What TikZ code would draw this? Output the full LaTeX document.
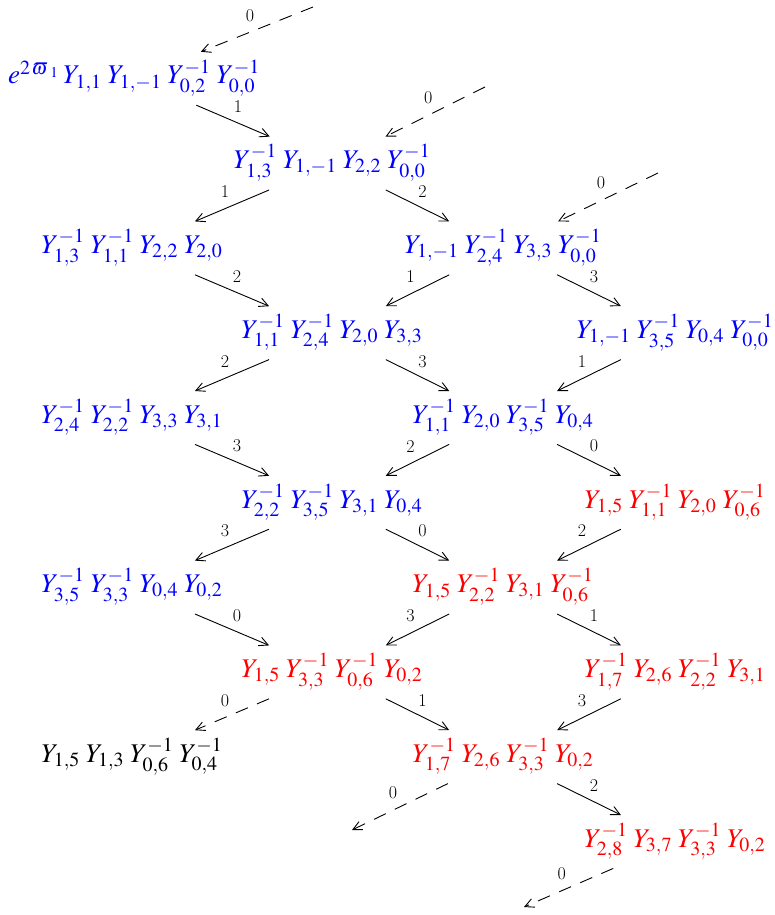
\documentclass[tikz,border=0pt]{standalone}
\usepackage{mathptmx}
\DeclareMathSizes{27}{27}{20}{15}
\usetikzlibrary{arrows.meta}
\newcommand{\gp}{\mskip4mu}
\begin{document}
\begin{tikzpicture}[x=1pt,y=-1pt,
  term/.style={inner xsep=0pt, inner ysep=12pt, text height=20pt, text depth=9pt,
    font=\fontsize{27}{32}\selectfont},
  bl/.style={term, text=blue},
  rd/.style={term, text=red},
  bk/.style={term, text=black},
  conn/.style={line width=0.9pt, -{Straight Barb[length=9pt,width=9pt,line width=0.9pt]}},
  dconn/.style={conn, dash pattern=on 13pt off 10pt},
  lbl/.style={inner sep=0pt, font=\fontsize{18}{20}\selectfont},
  lr/.style={lbl, midway, above=7.5pt, xshift=5pt},
  ll/.style={lbl, midway, above=7.5pt, xshift=-7pt}]
\useasboundingbox (0,0) rectangle (775,915);
% nodes
\node[bl] (A0) at (134,78.5) {$e^{2\mskip1.5mu{\varpi\mskip2mu}_1}\mskip3mu Y_{1,1}\gp Y_{1,-1}\gp Y^{-1}_{0,2}\gp Y^{-1}_{0,0}$};
\node[bl] (B1) at (332,163.3) {$Y^{-1}_{1,3}\gp Y_{1,-1}\gp Y_{2,2}\gp Y^{-1}_{0,0}$};
\node[bl] (A2) at (132,248.1) {$Y^{-1}_{1,3}\gp Y^{-1}_{1,1}\gp Y_{2,2}\gp Y_{2,0}$};
\node[bl] (C2) at (503,248.1) {$Y_{1,-1}\gp Y^{-1}_{2,4}\gp Y_{3,3}\gp Y^{-1}_{0,0}$};
\node[bl] (B3) at (332,332.9) {$Y^{-1}_{1,1}\gp Y^{-1}_{2,4}\gp Y_{2,0}\gp Y_{3,3}$};
\node[bl] (D3) at (675,332.9) {$Y_{1,-1}\gp Y^{-1}_{3,5}\gp Y_{0,4}\gp Y^{-1}_{0,0}$};
\node[bl] (A4) at (132,417.7) {$Y^{-1}_{2,4}\gp Y^{-1}_{2,2}\gp Y_{3,3}\gp Y_{3,1}$};
\node[bl] (C4) at (503,417.7) {$Y^{-1}_{1,1}\gp Y_{2,0}\gp Y^{-1}_{3,5}\gp Y_{0,4}$};
\node[bl] (B5) at (332,502.5) {$Y^{-1}_{2,2}\gp Y^{-1}_{3,5}\gp Y_{3,1}\gp Y_{0,4}$};
\node[rd] (D5) at (675,502.5) {$Y_{1,5}\gp Y^{-1}_{1,1}\gp Y_{2,0}\gp Y^{-1}_{0,6}$};
\node[bl] (A6) at (132,587.3) {$Y^{-1}_{3,5}\gp Y^{-1}_{3,3}\gp Y_{0,4}\gp Y_{0,2}$};
\node[rd] (C6) at (503,587.3) {$Y_{1,5}\gp Y^{-1}_{2,2}\gp Y_{3,1}\gp Y^{-1}_{0,6}$};
\node[rd] (B7) at (332,672.1) {$Y_{1,5}\gp Y^{-1}_{3,3}\gp Y^{-1}_{0,6}\gp Y_{0,2}$};
\node[rd] (D7) at (675,672.1) {$Y^{-1}_{1,7}\gp Y_{2,6}\gp Y^{-1}_{2,2}\gp Y_{3,1}$};
\node[bk] (A8) at (132,756.9) {$Y_{1,5}\gp Y_{1,3}\gp Y^{-1}_{0,6}\gp Y^{-1}_{0,4}$};
\node[rd] (C8) at (503,756.9) {$Y^{-1}_{1,7}\gp Y_{2,6}\gp Y^{-1}_{3,3}\gp Y_{0,2}$};
\node[rd] (D9) at (675,841.7) {$Y^{-1}_{2,8}\gp Y_{3,7}\gp Y^{-1}_{3,3}\gp Y_{0,2}$};
% free ends
\coordinate (s0) at (313,7);
\coordinate (s1) at (485,87);
\coordinate (s2) at (658,173);
\coordinate (e1) at (352,830);
\coordinate (e2) at (524,907);
% connectors
\draw[dconn] (s0) -- (A0) node[ll] {0};
\draw[dconn] (s1) -- (B1) node[ll] {0};
\draw[dconn] (s2) -- (C2) node[ll] {0};
\draw[conn] (A0) -- (B1) node[lr] {1};
\draw[conn] (B1) -- (A2) node[ll] {1};
\draw[conn] (B1) -- (C2) node[lr] {2};
\draw[conn] (A2) -- (B3) node[lr] {2};
\draw[conn] (C2) -- (B3) node[ll] {1};
\draw[conn] (C2) -- (D3) node[lr] {3};
\draw[conn] (B3) -- (A4) node[ll] {2};
\draw[conn] (B3) -- (C4) node[lr] {3};
\draw[conn] (D3) -- (C4) node[ll] {1};
\draw[conn] (A4) -- (B5) node[lr] {3};
\draw[conn] (C4) -- (B5) node[ll] {2};
\draw[conn] (C4) -- (D5) node[lr] {0};
\draw[conn] (B5) -- (A6) node[ll] {3};
\draw[conn] (B5) -- (C6) node[lr] {0};
\draw[conn] (D5) -- (C6) node[ll] {2};
\draw[conn] (A6) -- (B7) node[lr] {0};
\draw[conn] (C6) -- (B7) node[ll] {3};
\draw[conn] (C6) -- (D7) node[lr] {1};
\draw[dconn] (B7) -- (A8) node[ll] {0};
\draw[conn] (B7) -- (C8) node[lr] {1};
\draw[conn] (D7) -- (C8) node[ll] {3};
\draw[dconn] (C8) -- (e1) node[ll] {0};
\draw[conn] (C8) -- (D9) node[lr] {2};
\draw[dconn] (D9) -- (e2) node[ll] {0};
\end{tikzpicture}
\end{document}
